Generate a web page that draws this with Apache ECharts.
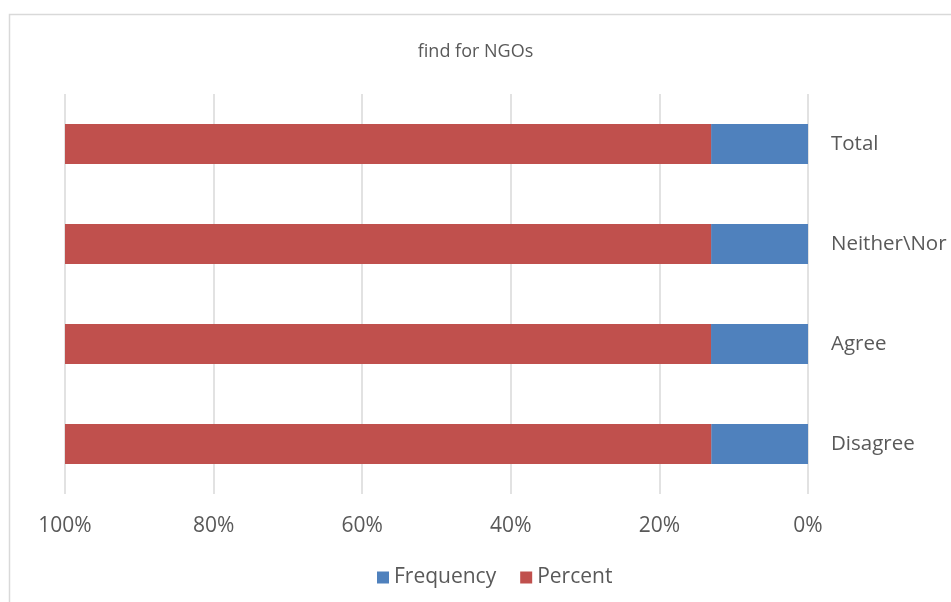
<!DOCTYPE html>
<html>
<head>
<meta charset="utf-8">
<script src="https://cdn.jsdelivr.net/npm/echarts@6/dist/echarts.min.js"></script>
<style>
  html, body { margin: 0; padding: 0; background: #ffffff; }
  #chart { width: 951px; height: 602px; }
</style>
</head>
<body>
<div id="chart"></div>
<script>
// Responses, bottom row first (category axis runs upward)
const categories = ['Disagree', 'Agree', 'Neither\\Nor', 'Total'];
const frequency = [4, 8, 3, 15];
const percent = [26.7, 53.3, 20.0, 100];
const tickLabels = ['0%', '20%', '40%', '60%', '80%', '100%'];

// 100% stacked: each row is shown as shares of its own total
const rowTotals = frequency.map((f, i) => f + percent[i]);
const freqShare = frequency.map((f, i) => f / rowTotals[i] * 100);
const pctShare = percent.map((p, i) => p / rowTotals[i] * 100);

const fontFamily = '"Open Sans", "Liberation Sans", sans-serif';
const textColor = '#595959';

const chart = echarts.init(document.getElementById('chart'));
chart.setOption({
  animation: false,
  title: {
    text: 'find for NGOs',
    left: 'center',
    top: 38,
    textStyle: { fontFamily, fontSize: 18, fontWeight: 'normal', color: textColor }
  },
  legend: {
    data: ['Frequency', 'Percent'],
    bottom: 9,
    left: 372,
    itemWidth: 12,
    itemHeight: 12,
    itemGap: 24,
    icon: 'rect',
    textStyle: { fontFamily, fontSize: 21, color: textColor, padding: [0, 0, 0, 0] }
  },
  grid: { left: 65, right: 143, top: 94, bottom: 108, containLabel: false },
  xAxis: {
    type: 'value',
    inverse: true,
    min: 0,
    max: 100,
    interval: 20,
    axisLine: { show: false },
    axisTick: { show: false },
    splitLine: { lineStyle: { color: '#d9d9d9', width: 1.5 } },
    axisLabel: {
      margin: 22,
      fontFamily, fontSize: 21, color: textColor,
      formatter: v => tickLabels[v / 20]
    }
  },
  yAxis: {
    type: 'category',
    data: categories,
    position: 'right',
    axisLine: { show: false },
    axisTick: { show: false },
    axisLabel: { margin: 23, fontFamily, fontSize: 20.5, color: textColor }
  },
  series: [
    {
      name: 'Frequency', type: 'bar', stack: 'all', barWidth: 40,
      itemStyle: { color: '#4f81bd' },
      data: freqShare
    },
    {
      name: 'Percent', type: 'bar', stack: 'all', barWidth: 40,
      itemStyle: { color: '#c0504d' },
      data: pctShare
    }
  ],
  graphic: [{
    type: 'rect',
    silent: true,
    shape: { x: 9.5, y: 14.5, width: 1200, height: 1000 },
    style: { fill: 'none', stroke: '#d9d9d9', lineWidth: 1.5 }
  }]
});
</script>
</body>
</html>
